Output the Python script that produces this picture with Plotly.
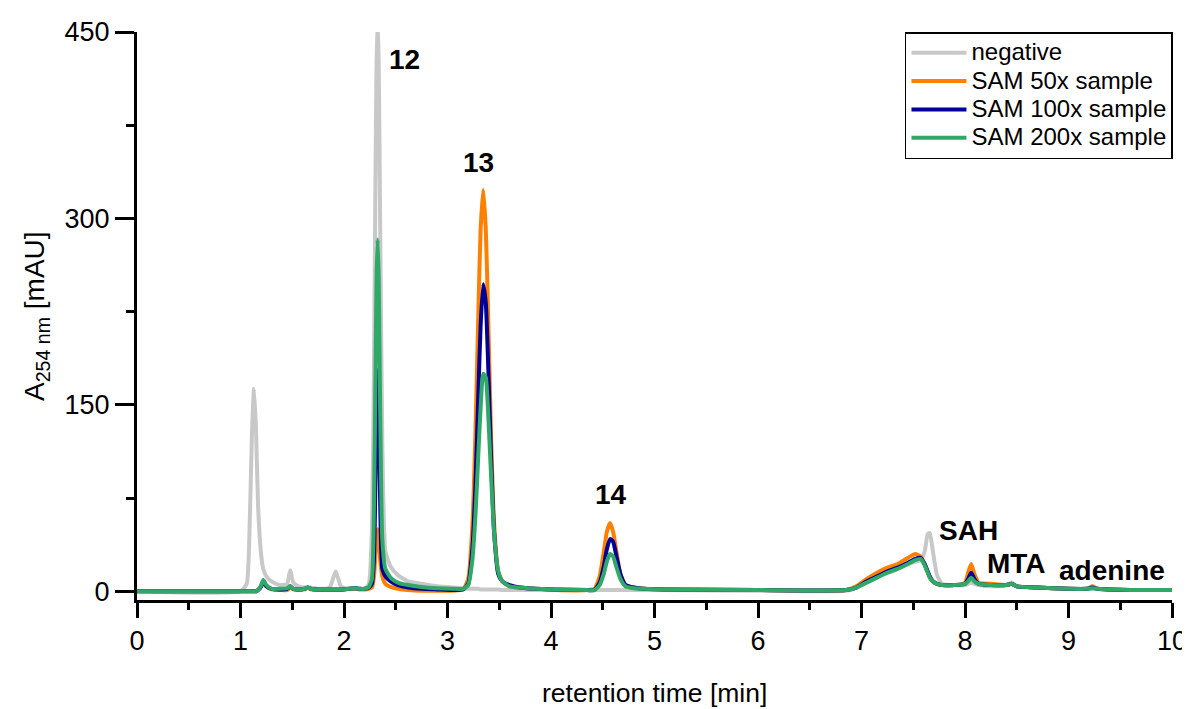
import plotly.graph_objects as go

# retention time grid [min]
time_min = [
    0.00, 1.00, 1.06, 1.09, 1.11, 1.13, 1.15, 1.17, 1.20, 1.22,
    1.25, 1.30, 1.38, 1.45, 1.48, 1.51, 1.56, 1.62, 1.65, 1.68,
    1.75, 1.86, 1.92, 1.97, 2.05, 2.10, 2.15, 2.20, 2.24, 2.27,
    2.29, 2.305, 2.315, 2.325, 2.335, 2.35, 2.37, 2.40, 2.45, 2.52,
    2.62, 2.75, 2.90, 3.05, 3.15, 3.20, 3.24, 3.27, 3.30, 3.32,
    3.345, 3.37, 3.39, 3.42, 3.45, 3.49, 3.53, 3.60, 3.70, 3.85,
    4.05, 4.35, 4.42, 4.47, 4.51, 4.54, 4.57, 4.60, 4.63, 4.67,
    4.72, 4.80, 4.90, 5.10, 6.00, 6.85, 6.95, 7.05, 7.15, 7.25,
    7.35, 7.45, 7.52, 7.57, 7.61, 7.64, 7.66, 7.69, 7.73, 7.78,
    7.90, 8.00, 8.03, 8.06, 8.09, 8.13, 8.25, 8.40, 8.45, 8.50,
    8.70, 9.00, 9.18, 9.23, 9.28, 9.60, 10.00,
]

negative = [
    0, 0, 6, 58, 125, 163, 130, 68, 29, 18,
    12, 8, 5, 6, 17, 7, 4, 3, 3, 3,
    2, 3, 16, 4, 2, 2, 2, 2, 6, 50,
    186, 342, 427, 460, 427, 290, 120, 32, 20, 13,
    8, 6, 4, 3, 2.5, 2, 2, 2, 2, 1.5,
    1.5, 1.5, 1.5, 1.5, 1.5, 1.5, 1, 1, 1, 1,
    1, 1, 1, 1, 1, 1, 1, 1, 1, 1,
    1, 1, 1, 1, 0.5, 0.5, 3, 8, 12, 16,
    19, 22, 24, 25, 32, 46, 47, 32, 13, 6,
    5, 5, 6, 7, 6, 5, 4, 5, 7, 4,
    3, 2, 2, 2, 2, 1, 1,
]

sam_50x = [
    0, 0, 0, 0, 0, 0, 0, 1, 4, 7,
    4, 1.5, 1, 1, 3, 1.5, 1, 1.5, 3, 1.5,
    1, 1, 1, 1, 2, 2, 1.5, 1.5, 2, 3,
    12, 32, 45, 50, 44, 25, 12, 6, 3.5, 2,
    1, 0.5, 0.5, 0.5, 1.5, 10, 52, 127, 231, 291,
    323, 291, 231, 128, 55, 16, 8, 4, 3, 2,
    1, 1, 2, 12, 32, 48, 55, 48, 33, 14,
    5, 3, 2, 1.5, 1, 1, 4, 10, 15, 19,
    22, 27, 30, 28, 22, 15, 11, 8, 6, 5,
    5, 7, 15, 22, 14, 7, 6, 5, 6, 4,
    3, 2, 2, 4, 2, 1, 1,
]

sam_100x = [
    0, 0, 0, 0, 0, 0, 0, 1, 4, 8,
    4, 2, 1.5, 2, 4, 2, 1.5, 2, 3, 2,
    1.5, 1.5, 1.5, 1.5, 2, 2.5, 2, 2, 3, 6,
    27, 97, 152, 178, 152, 68, 18, 12, 8, 5,
    3, 2, 1.5, 1, 1.5, 6, 34, 86, 164, 214,
    247, 232, 190, 110, 48, 14, 8, 5, 3, 2,
    1.5, 1, 1, 7, 20, 34, 42, 40, 29, 14,
    5, 3, 2, 1.5, 1, 1, 3, 8, 12, 16,
    19, 23, 26, 27, 22, 16, 12, 8, 6, 5,
    5, 6, 10, 15, 10, 6, 5, 5, 6, 4,
    3, 2, 2, 3, 2, 1, 1,
]

sam_200x = [
    0, 0, 0, 0, 0, 0, 0, 1, 5, 9,
    5, 2, 2, 2.5, 4, 2, 1.5, 2, 3, 2,
    1.5, 1.5, 1.5, 1.5, 2, 2.5, 2, 2, 3.5, 10,
    72, 182, 253, 283, 253, 142, 42, 18, 11, 7,
    5, 3.5, 2.5, 2, 2, 5, 25, 61, 114, 148,
    175, 172, 148, 95, 47, 16, 8, 4, 3, 2,
    1.5, 1, 1, 5, 14, 24, 30, 28, 20, 10,
    4, 2.5, 2, 1.5, 1, 1, 3, 7, 11, 15,
    18, 22, 25, 26, 21, 15, 11, 8, 6, 5,
    5, 6, 8, 11, 8, 6, 5, 5, 6, 4,
    3, 2, 2, 2.5, 2, 1, 1,
]

series_names = ["negative", "SAM 50x sample", "SAM 100x sample", "SAM 200x sample"]
series_values = [negative, sam_50x, sam_100x, sam_200x]
series_colors = ["#c8c8c8", "#ff8000", "#000099", "#30a968"]

for vals in series_values:
    assert len(vals) == len(time_min), (len(vals), len(time_min))

peak_labels = ["12", "13", "14", "SAH", "MTA", "adenine"]
peak_label_x = [2.58, 3.30, 4.58, 8.03, 8.50, 9.42]
peak_label_y = [428, 345, 78, 49, 22, 17]

FONT = "Liberation Sans, Arial, sans-serif"
LEGEND_TEXT_PX = 24

fig = go.Figure()
for name, vals, col in zip(series_names, series_values, series_colors):
    fig.add_trace(go.Scatter(
        x=time_min, y=vals, mode="lines",
        name=f'<span style="font-size:{LEGEND_TEXT_PX}px">{name}</span>',
        line=dict(color=col, width=4, shape="spline", smoothing=0.5),
    ))

for txt, lx, ly in zip(peak_labels, peak_label_x, peak_label_y):
    fig.add_annotation(
        x=lx, y=ly, xref="x", yref="y", text=f"<b>{txt}</b>",
        showarrow=False, xanchor="center", yanchor="middle",
        font=dict(family=FONT, size=28, color="black"),
    )

fig.add_annotation(
    x=-0.0976, y=0.5, xref="paper", yref="paper",
    text="A<sub>254 nm</sub> [mAU]", textangle=-90, showarrow=False,
    xanchor="center", yanchor="middle",
    font=dict(family=FONT, size=28, color="black"),
)
fig.add_annotation(
    x=0.5, y=-0.164, xref="paper", yref="paper",
    text="retention time [min]", showarrow=False,
    xanchor="center", yanchor="middle",
    font=dict(family=FONT, size=26.5, color="black"),
)

# page body has an 8px margin: size/margins compensate so the plot area lands
# at x 137..1172, y 32..600 in the 1190x709 window
fig.update_layout(
    width=1182, height=701,
    margin=dict(l=129, r=18, t=24, b=109, autoexpand=False),
    plot_bgcolor="white", paper_bgcolor="white",
    font=dict(family=FONT, color="black"),
    showlegend=True,
    legend=dict(
        x=0.742, y=1.0, xanchor="left", yanchor="top",
        bgcolor="white", bordercolor="black", borderwidth=1.5,
        font=dict(family=FONT, size=19.5, color="black"),
        itemwidth=55, tracegroupgap=0,
    ),
)

fig.update_xaxes(
    range=[0, 10], showgrid=False, zeroline=False, automargin=False,
    showline=True, linecolor="black", linewidth=3,
    ticks="outside", ticklen=15, tickwidth=3, tickcolor="black",
    tick0=0, dtick=1,
    minor=dict(ticks="outside", ticklen=7, tickwidth=3, tickcolor="black", dtick=0.5, showgrid=False),
    tickfont=dict(family=FONT, size=27, color="black"),
)
fig.update_yaxes(
    range=[-7, 450], showgrid=False, zeroline=False, automargin=False,
    showline=True, linecolor="black", linewidth=3,
    ticks="outside", ticklen=19, tickwidth=3, tickcolor="black",
    tick0=0, dtick=150,
    minor=dict(ticks="outside", ticklen=8, tickwidth=3, tickcolor="black", dtick=75, showgrid=False),
    tickfont=dict(family=FONT, size=27, color="black"),
)

fig.write_html("out.html")
